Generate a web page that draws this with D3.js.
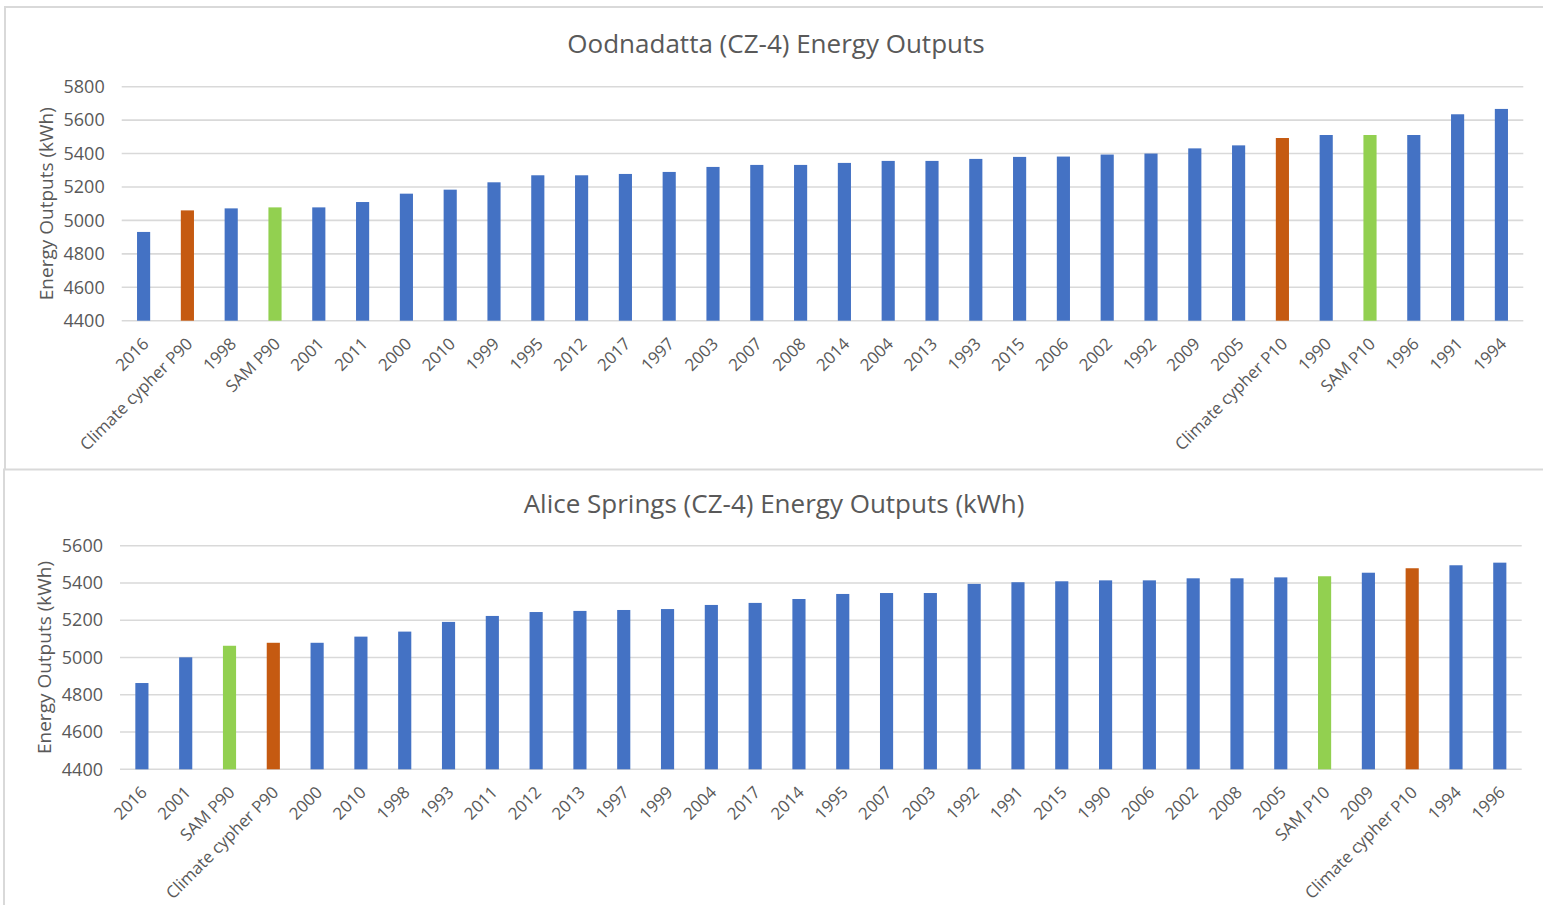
<!DOCTYPE html>
<html>
<head>
<meta charset="utf-8">
<script src="https://cdn.jsdelivr.net/npm/d3@7"></script>
<style>
  html, body { margin: 0; padding: 0; background: #fff; }
  svg { display: block; }
  text { font-family: "Open Sans", "Noto Sans", sans-serif; fill: #595959; }
</style>
</head>
<body>
<svg id="chart" width="1543" height="905"></svg>
<script>
// ---------- Data ----------
const oodCategories = ["2016","Climate cypher P90","1998","SAM P90","2001","2011","2000","2010","1999","1995","2012","2017","1997","2003","2007","2008","2014","2004","2013","1993","2015","2006","2002","1992","2009","2005","Climate cypher P10","1990","SAM P10","1996","1991","1994"];
const oodValues = [4931,5060,5072,5078,5078,5110,5160,5184,5228,5270,5270,5278,5290,5320,5332,5332,5344,5356,5356,5368,5380,5382,5394,5400,5431,5449,5493,5511,5511,5511,5635,5667];
const oodTicks = [4400,4600,4800,5000,5200,5400,5600,5800];

const aliceCategories = ["2016","2001","SAM P90","Climate cypher P90","2000","2010","1998","1993","2011","2012","2013","1997","1999","2004","2017","2014","1995","2007","2003","1992","1991","2015","1990","2006","2002","2008","2005","SAM P10","2009","Climate cypher P10","1994","1996"];
const aliceValues = [4863,5001,5063,5079,5079,5112,5139,5191,5223,5244,5250,5255,5260,5282,5293,5314,5341,5346,5346,5395,5404,5409,5414,5414,5425,5425,5430,5436,5455,5479,5495,5509];
const aliceTicks = [4400,4600,4800,5000,5200,5400,5600];

const colorBlue = "#4472C4", colorOrange = "#C55A11", colorGreen = "#92D050";
function barColor(cat) {
  if (cat.startsWith("Climate cypher")) return colorOrange;
  if (cat.startsWith("SAM")) return colorGreen;
  return colorBlue;
}

const svg = d3.select("#chart");

// ---------- Panel borders ----------
const borderColor = "#D9D9D9";
svg.append("line").attr("x1",5).attr("x2",1543).attr("y1",7).attr("y2",7).attr("stroke",borderColor).attr("stroke-width",2);
svg.append("line").attr("x1",5).attr("x2",5).attr("y1",6).attr("y2",469).attr("stroke",borderColor).attr("stroke-width",2);
svg.append("line").attr("x1",3).attr("x2",1543).attr("y1",469.5).attr("y2",469.5).attr("stroke",borderColor).attr("stroke-width",2);
svg.append("line").attr("x1",4).attr("x2",4).attr("y1",469).attr("y2",905).attr("stroke",borderColor).attr("stroke-width",2);

function drawChart(opts) {
  const { cats, vals, ticks, title, titleY, left, right, top, bottom, titleX } = opts;
  const g = svg.append("g");
  const x = d3.scaleBand().domain(cats).range([left, right]).paddingInner(0.7).paddingOuter(0.35);
  const y = d3.scaleLinear().domain([ticks[0], ticks[ticks.length-1]]).range([bottom, top]);

  // gridlines
  g.append("g").selectAll("line").data(ticks).join("line")
    .attr("x1", left).attr("x2", right)
    .attr("y1", d => y(d)).attr("y2", d => y(d))
    .attr("stroke", "#D9D9D9").attr("stroke-width", 1.6);

  // y tick labels
  const yAxis = d3.axisLeft(y).tickValues(ticks).tickSize(0).tickPadding(17).tickFormat(d3.format("d"));
  const ya = g.append("g").attr("transform", `translate(${left},0)`).call(yAxis);
  ya.select(".domain").remove();
  ya.selectAll("text").style("font-family", '"Open Sans", sans-serif').style("font-size", "18px").attr("fill", "#595959");

  // bars
  g.append("g").selectAll("rect").data(cats).join("rect")
    .attr("x", d => x(d)).attr("width", x.bandwidth())
    .attr("y", (d,i) => y(vals[i])).attr("height", (d,i) => y(ticks[0]) - y(vals[i]))
    .attr("fill", d => barColor(d));

  // x labels
  const xAxis = d3.axisBottom(x).tickSize(0).tickPadding(0);
  const xa = g.append("g").attr("transform", `translate(0,${bottom})`).call(xAxis);
  xa.select(".domain").remove();
  xa.selectAll("text")
    .style("font-family", '"Open Sans", sans-serif').style("font-size", "16.8px").attr("fill", "#595959")
    .attr("text-anchor", "end")
    .attr("dy", null).attr("y", null)
    .attr("transform", "translate(3,21) rotate(-45)")
    .attr("dominant-baseline", "middle");

  // title
  g.append("text").attr("x", titleX).attr("y", titleY).attr("text-anchor", "middle")
    .style("font-size", "26px").attr("fill", "#595959").text(title);

  // y axis title
  const cy = (top + bottom) / 2;
  g.append("text").attr("transform", `translate(${left - 74},${cy}) rotate(-90)`)
    .attr("text-anchor", "middle").attr("dominant-baseline", "middle")
    .style("font-size", "19px").attr("fill", "#595959").text("Energy Outputs (kWh)");
}

drawChart({
  cats: oodCategories, vals: oodValues, ticks: oodTicks,
  title: "Oodnadatta (CZ-4) Energy Outputs", titleX: 776, titleY: 53,
  left: 121.7, right: 1523.3, top: 86.7, bottom: 320.7
});
drawChart({
  cats: aliceCategories, vals: aliceValues, ticks: aliceTicks,
  title: "Alice Springs (CZ-4) Energy Outputs (kWh)", titleX: 774, titleY: 513,
  left: 120, right: 1521.7, top: 545.7, bottom: 769.3
});
</script>
</body>
</html>
